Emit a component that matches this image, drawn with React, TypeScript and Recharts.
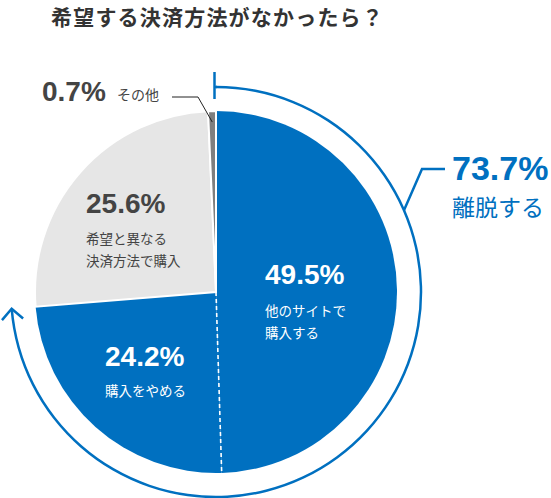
import React from 'react';
import { PieChart, Pie, Cell } from 'recharts';

const title = '希望する決済方法がなかったら？';
const categories = ['他のサイトで購入する', '購入をやめる', '希望と異なる決済方法で購入', 'その他'];
const categoryLines = [['他のサイトで', '購入する'], ['購入をやめる'], ['希望と異なる', '決済方法で購入'], ['その他']];
const shares = [49.5, 24.2, 25.6, 0.7];
const sliceColors = ['#0070c0', '#0070c0', '#e6e6e6', '#7f7f7f'];
const churnNames = ['離脱する', '残り'];
const churnShares = [73.7, 26.3];

const data = categories.map((name, i) => ({ name, value: shares[i] }));
const churnData = churnNames.map((name, i) => ({ name, value: churnShares[i] }));

const BLUE = '#0070c0';
const DARK = '#444444';
const CX = 216;
const CY = 292;
const R = 181;
const ARC_R = 205;
const RAD = Math.PI / 180;
const NUM_FONT = '"Liberation Sans", Arial, sans-serif';
const JP_FONT = '"Noto Sans CJK JP", "Noto Sans", sans-serif';

const polar = (cx: number, cy: number, r: number, a: number) => ({
  x: cx + r * Math.cos(-a * RAD),
  y: cy + r * Math.sin(-a * RAD),
});

const fmt = (v: number) => `${v.toFixed(1)}%`;

const renderMainLabel = (p: any) => {
  const { cx, cy, index, midAngle, percent, outerRadius } = p;
  const startAngle = p.startAngle ?? midAngle + (percent * 360) / 2;
  const pct = fmt(shares[index]);
  const lines = categoryLines[index];
  if (index === 0) {
    return (
      <g>
        <text x={cx + 49} y={cy - 8} fill="#fff" fontFamily={NUM_FONT} fontWeight="bold" fontSize={28}>{pct}</text>
        {lines.map((l, i) => (
          <text key={i} x={cx + 49} y={cy + 24 + i * 22} fill="#fff" fontFamily={JP_FONT} fontSize={13.5}>{l}</text>
        ))}
      </g>
    );
  }
  if (index === 1) {
    const end = polar(cx, cy, outerRadius, startAngle);
    return (
      <g>
        <line x1={cx} y1={cy} x2={end.x} y2={end.y} stroke="#fff" strokeWidth={1.6} strokeDasharray="4 3" />
        <text x={cx - 111} y={cy + 74} fill="#fff" fontFamily={NUM_FONT} fontWeight="bold" fontSize={28}>{pct}</text>
        {lines.map((l, i) => (
          <text key={i} x={cx - 111} y={cy + 104 + i * 22} fill="#fff" fontFamily={JP_FONT} fontSize={13.5}>{l}</text>
        ))}
      </g>
    );
  }
  if (index === 2) {
    return (
      <g>
        <text x={cx - 130} y={cy - 79} fill={DARK} fontFamily={NUM_FONT} fontWeight="bold" fontSize={28}>{pct}</text>
        {lines.map((l, i) => (
          <text key={i} x={cx - 130} y={cy - 48 + i * 22} fill={DARK} fontFamily={JP_FONT} fontSize={13.5}>{l}</text>
        ))}
      </g>
    );
  }
  const tip = polar(cx, cy, 170, midAngle);
  return (
    <g>
      <polyline points={`${cx - 44},${cy - 195} ${cx - 18},${cy - 195} ${tip.x},${tip.y}`} fill="none" stroke="#222" strokeWidth={1} />
      <text x={cx - 174} y={cy - 191} fill={DARK} fontFamily={NUM_FONT} fontWeight="bold" fontSize={28}>{pct}</text>
      <text x={cx - 99} y={cy - 192} fill={DARK} fontFamily={JP_FONT} fontSize={14}>{lines[0]}</text>
    </g>
  );
};

const renderArcLabel = (p: any) => {
  const { cx, cy, index, midAngle, percent } = p;
  if (index !== 0) return <g />;
  const endAngle = p.endAngle ?? midAngle - (percent * 360) / 2;
  const tip = polar(cx, cy, ARC_R, endAngle);
  const a = endAngle * RAD;
  const dir = { x: Math.sin(a), y: Math.cos(a) };
  const back = { x: -dir.x, y: -dir.y };
  const rot = (v: { x: number; y: number }, deg: number) => {
    const t = deg * RAD;
    return { x: v.x * Math.cos(t) - v.y * Math.sin(t), y: v.x * Math.sin(t) + v.y * Math.cos(t) };
  };
  const L = 15;
  const w1 = rot(back, 45);
  const w2 = rot(back, -45);
  const c0 = polar(cx, cy, ARC_R, 23.5);
  return (
    <g>
      <line x1={cx - 1.5} y1={cy - 220} x2={cx - 1.5} y2={cy - 193} stroke={BLUE} strokeWidth={2.5} />
      <line x1={cx - 1.5} y1={cy - ARC_R} x2={cx + 1} y2={cy - ARC_R} stroke={BLUE} strokeWidth={2.5} />
      <polyline
        points={`${tip.x + w1.x * L},${tip.y + w1.y * L} ${tip.x},${tip.y} ${tip.x + w2.x * L},${tip.y + w2.y * L}`}
        fill="none"
        stroke={BLUE}
        strokeWidth={2.5}
      />
      <polyline points={`${c0.x},${c0.y} ${cx + 206},${cy - 123} ${cx + 229},${cy - 123}`} fill="none" stroke={BLUE} strokeWidth={2.5} />
      <text x={cx + 236} y={cy - 112} fill={BLUE} fontFamily={NUM_FONT} fontWeight="bold" fontSize={34}>{fmt(churnShares[0])}</text>
      <text x={cx + 236} y={cy - 76} fill={BLUE} fontFamily={JP_FONT} fontSize={23}>{churnNames[0]}</text>
    </g>
  );
};

export default function App() {
  return (
    <div style={{ position: 'absolute', left: 0, top: 0, width: 551, height: 498, background: '#fff' }}>
      <PieChart width={551} height={498} margin={{ top: 0, right: 0, bottom: 0, left: 0 }}>
        <text x={51} y={25} fill="#333" fontFamily={JP_FONT} fontWeight="bold" fontSize={21} letterSpacing={1.2}>{title}</text>
        <Pie
          data={churnData}
          dataKey="value"
          cx={CX}
          cy={CY}
          innerRadius={ARC_R - 1.25}
          outerRadius={ARC_R + 1.25}
          startAngle={90}
          endAngle={-270}
          stroke="none"
          isAnimationActive={false}
          label={renderArcLabel}
          labelLine={false}
        >
          <Cell fill={BLUE} />
          <Cell fill="transparent" />
        </Pie>
        <Pie
          data={data}
          dataKey="value"
          cx={CX}
          cy={CY}
          innerRadius={0}
          outerRadius={R}
          startAngle={90}
          endAngle={-270}
          isAnimationActive={false}
          label={renderMainLabel}
          labelLine={false}
        >
          {data.map((d, i) => (
            <Cell key={d.name} fill={sliceColors[i]} stroke={i >= 2 ? '#fff' : 'none'} strokeWidth={i >= 2 ? 2 : 0} />
          ))}
        </Pie>
      </PieChart>
    </div>
  );
}
